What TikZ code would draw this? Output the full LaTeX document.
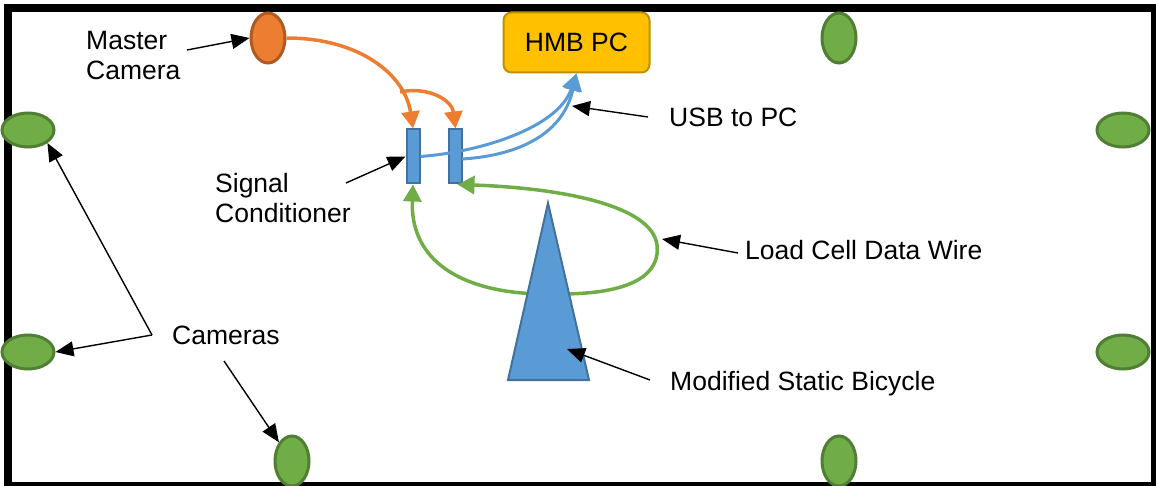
\documentclass[tikz,border=0pt]{standalone}
\usepackage{fontspec}
\setmainfont{Liberation Sans}
\usetikzlibrary{shapes.geometric,arrows.meta}
\definecolor{cgreen}{HTML}{70AD47}
\definecolor{cgreenD}{HTML}{507E32}
\definecolor{corange}{HTML}{ED7D31}
\definecolor{corangeD}{HTML}{AE5A21}
\definecolor{cblue}{HTML}{5B9BD5}
\definecolor{cblueD}{HTML}{41719C}
\definecolor{cgold}{HTML}{FFC000}
\definecolor{cgoldD}{HTML}{BF9000}
\begin{document}
\begin{tikzpicture}[x=1pt,y=-1pt,
  lbl/.style={anchor=base west,inner sep=0,font=\fontsize{26.5}{30}\selectfont},
  hcam/.style={ellipse,draw=cgreenD,fill=cgreen,line width=3,minimum width=52,minimum height=34,inner sep=0},
  vcam/.style={ellipse,draw=cgreenD,fill=cgreen,line width=3,minimum width=34,minimum height=50,inner sep=0},
  condbox/.style={rectangle,draw=cblueD,fill=cblue,line width=2,minimum width=13,minimum height=54,inner sep=0},
  ptr/.style={draw=black,line width=1.4,-{Triangle[length=18,width=15]}},
  wire/.style={line width=3.5,-{Triangle[length=17,width=18]}},
]
\useasboundingbox (0,0) rectangle (1156,486);
\begin{scope}
\clip (0,0) rectangle (1156,486);
\draw[line width=8] (8,8) rectangle (1155,486);
% cameras
\node[hcam] (cam1) at (28,130) {};
\node[hcam] (cam2) at (28,352) {};
\node[vcam] (cam3) at (292,461) {};
\node[vcam] (cam4) at (839,38) {};
\node[vcam] (cam5) at (839,461) {};
\node[hcam] (cam6) at (1123,130) {};
\node[hcam] (cam7) at (1123,352) {};
\end{scope}
\node[vcam,draw=corangeD,fill=corange] (master) at (268,38) {};
% PC
\node[rectangle,rounded corners=8,draw=cgoldD,fill=cgold,line width=2,minimum width=146,minimum height=60,inner sep=0,font=\fontsize{26.5}{30}\selectfont] (hmb) at (576.5,42.5) {HMB PC};
% signal conditioners
\node[condbox] (sc1) at (413,156.5) {};
\node[condbox] (sc2) at (455.5,156.5) {};
% wires
\coordinate (obranch) at (400,92);
\draw[wire,corange] (master.east) .. controls (360,38) and (405,75) .. (sc1.north);
\draw[wire,corange] (obranch) .. controls (428,86) and (452,100) .. (sc2.north);
\coordinate (b2s) at (462,159);
\draw[wire,cblue,line width=3] (sc1.east) .. controls (480,152) and (558,128) .. (hmb.south);
\draw[wire,cblue,line width=3] (b2s) .. controls (512,156) and (562,138) .. (hmb.south);
\coordinate (gL) at (540,294);
\coordinate (gR) at (560,294);
\coordinate (gloop) at (657,245);
\draw[wire,cgreen] (gL) .. controls (460,292) and (410,260) .. (sc1.south);
\draw[wire,cgreen] (gR) .. controls (640,294) and (660,270) .. (gloop)
   .. controls (652,205) and (560,188) .. ([xshift=2]sc2.south);
% bicycle
\draw[fill=cblue,draw=cblueD,line width=2] (548,203) coordinate (apex) -- (589,380) coordinate (bR) -- (508,380) coordinate (bL) -- cycle;
% labels
\node[lbl] (tMaster) at (86,50) {Master};
\node[lbl] (tCamera) at (86,80) {Camera};
\node[lbl] (tSignal) at (215,193) {Signal};
\node[lbl] (tCond) at (215,223) {Conditioner};
\node[lbl] (tUSB) at (669,127) {USB to PC};
\node[lbl] (tLoad) at (745,260) {Load Cell Data Wire};
\node[lbl] (tBike) at (670,390) {Modified Static Bicycle};
\node[lbl] (tCams) at (172,344) {Cameras};
% pointers
\coordinate (pMaster) at (187,50);
\coordinate (pSignal) at (346,183);
\coordinate (pUSB) at (648,117);
\coordinate (usbTip) at (572,106);
\coordinate (pLoad) at (738,253);
\coordinate (loadTip) at (662,239);
\coordinate (pBike) at (650,380);
\coordinate (bikeTip) at (567,349);
\coordinate (pCams) at (152,335);
\coordinate (pCams2) at (224,361);
\draw[ptr] (pMaster) -- (master.west);
\draw[ptr] (pSignal) -- (sc1.west);
\draw[ptr] (pUSB) -- (usbTip);
\draw[ptr] (pLoad) -- (loadTip);
\draw[ptr] (pBike) -- (bikeTip);
\draw[ptr] (pCams) -- (cam1.south east);
\draw[ptr] (pCams) -- (cam2.east);
\draw[ptr] (pCams2) -- (cam3.north west);
\end{tikzpicture}
\end{document}
